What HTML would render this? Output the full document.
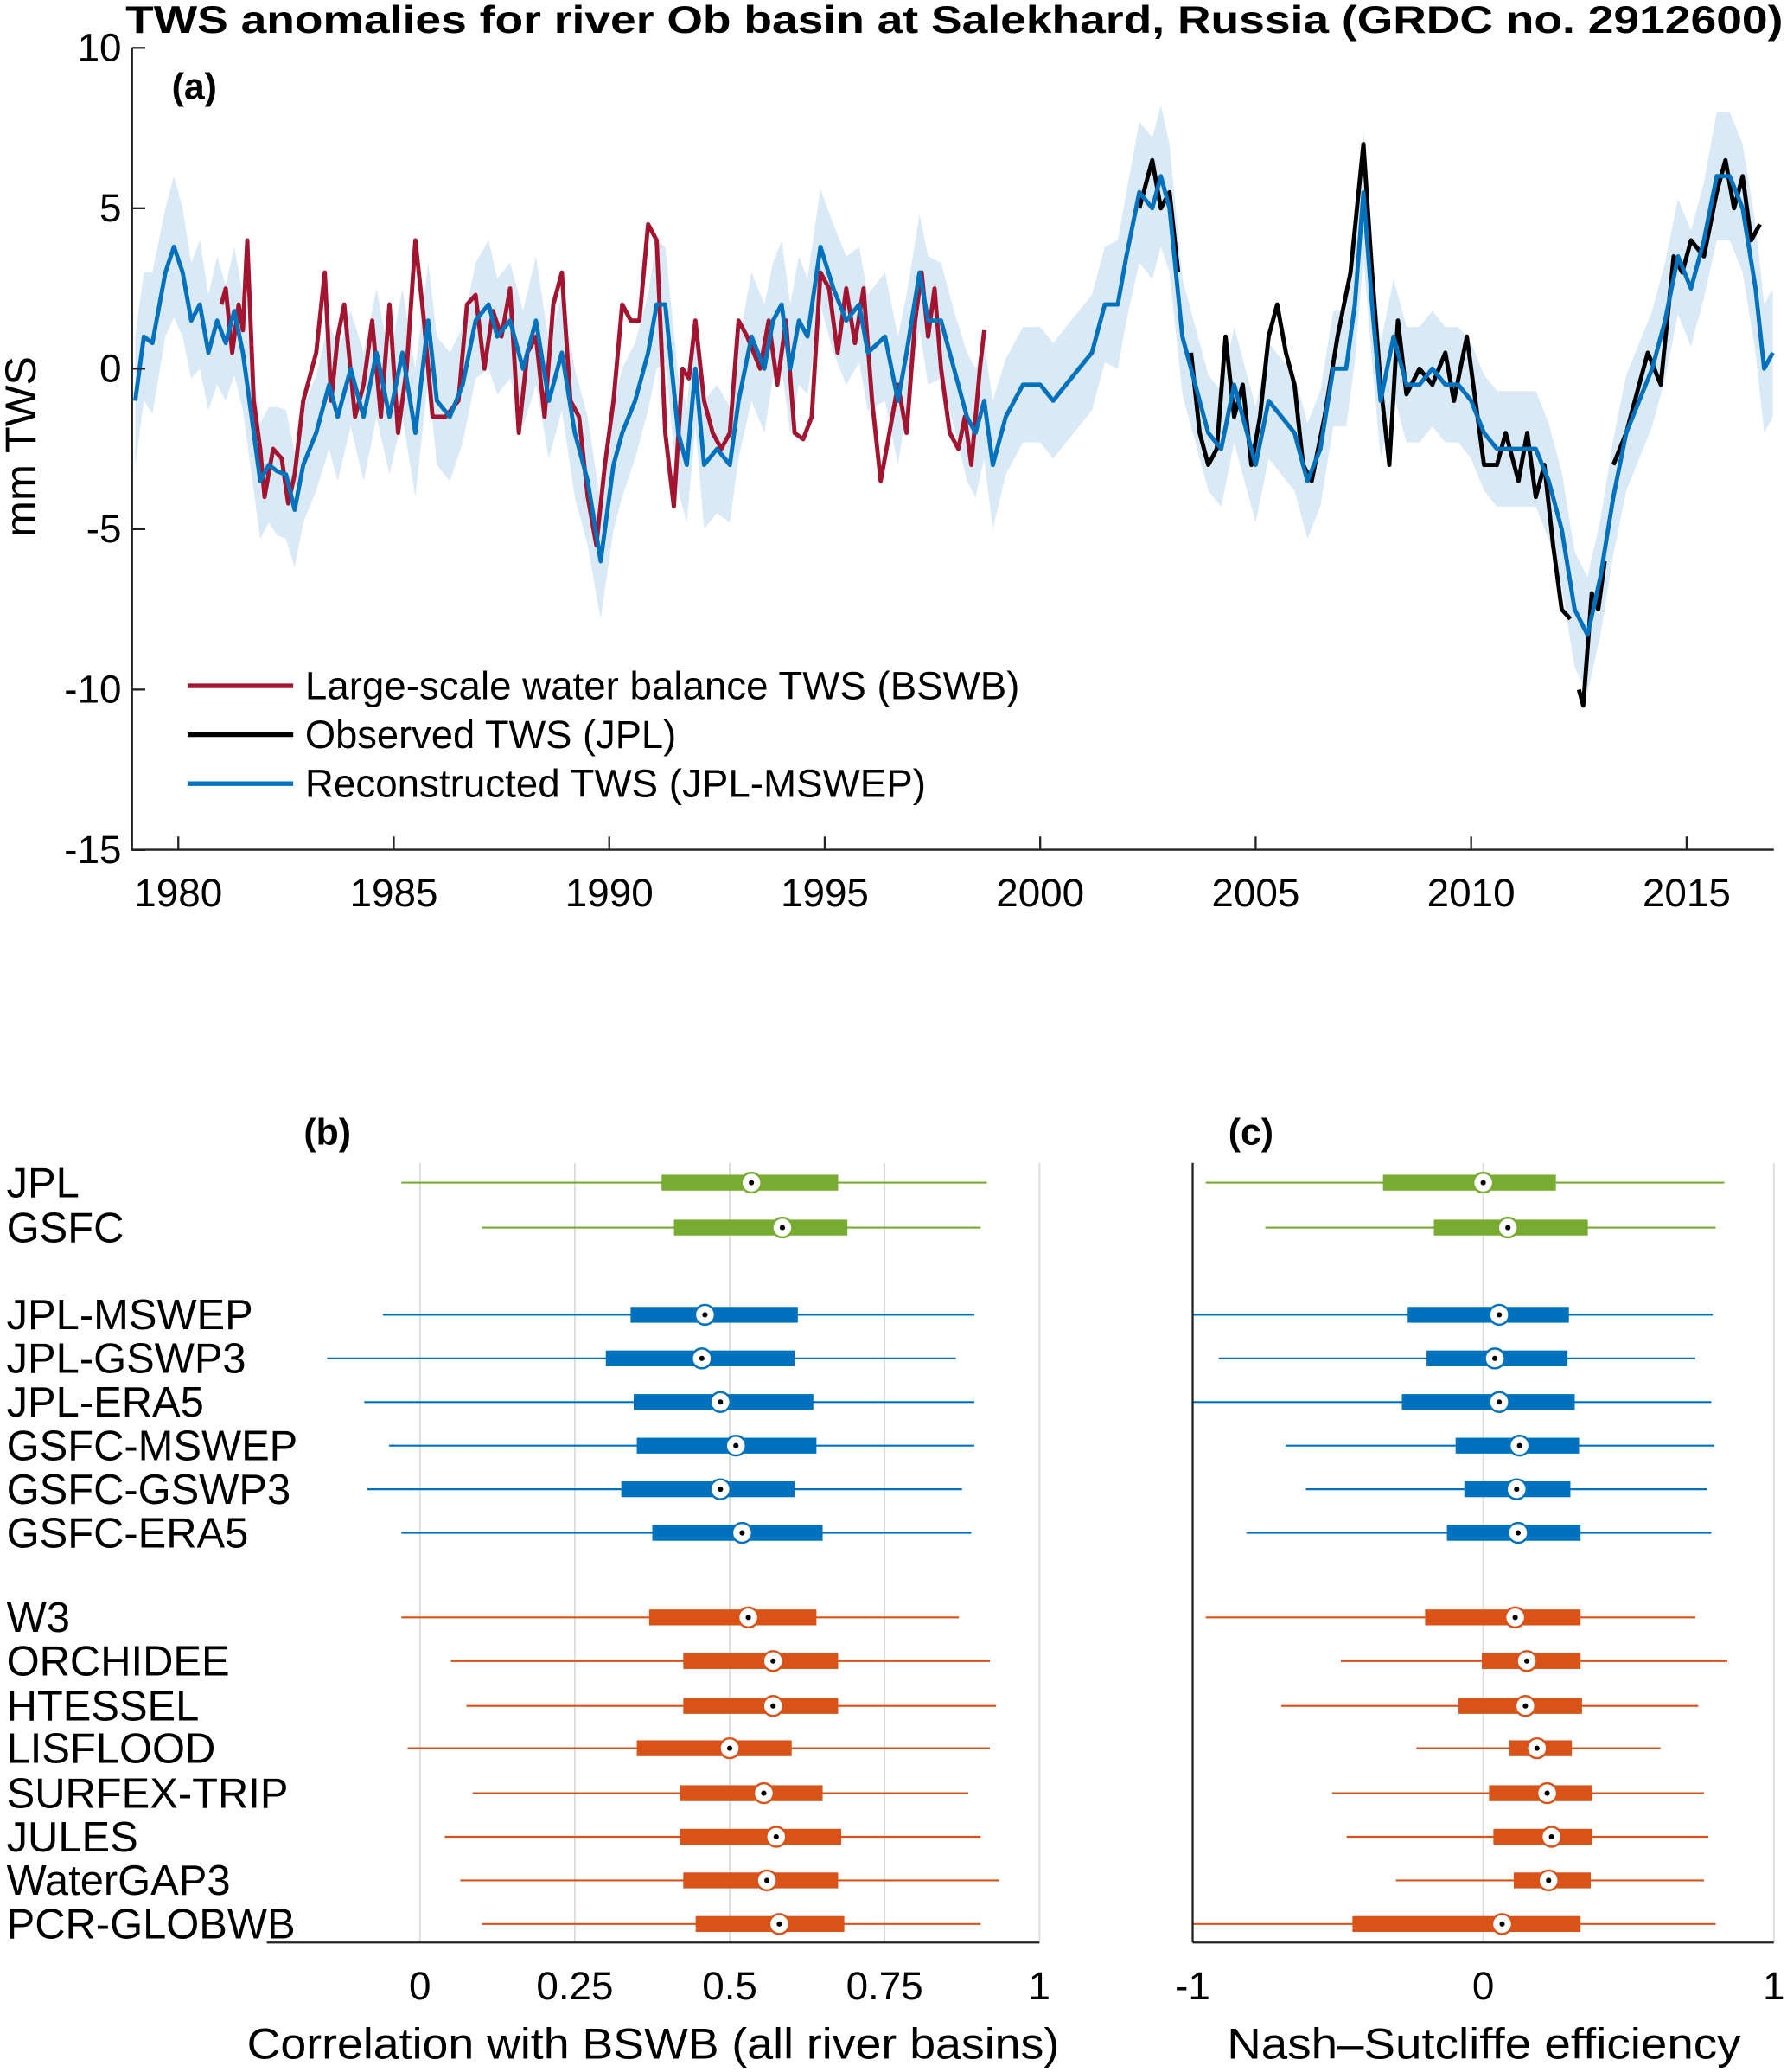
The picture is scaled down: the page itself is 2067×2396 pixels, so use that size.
<!DOCTYPE html>
<html><head><meta charset="utf-8"><style>
html,body{margin:0;padding:0;background:#fff;}
svg{display:block;font-family:"Liberation Sans",Arial,sans-serif;}
</style></head><body>
<svg id="chart" width="2067" height="2396" viewBox="0 0 1353 1568" preserveAspectRatio="none" xmlns="http://www.w3.org/2000/svg">
<g id="pa"></g>
<g id="pb"></g>
<g id="pc"></g>
</svg>
<script>
const blueT=[1979.0,1979.2,1979.4,1979.7,1979.9,1980.1,1980.3,1980.5,1980.7,1980.9,1981.1,1981.3,1981.5,1981.7,1981.9,1982.1,1982.3,1982.5,1982.7,1982.9,1983.2,1983.5,1983.7,1984.0,1984.3,1984.6,1984.9,1985.2,1985.5,1985.8,1986.0,1986.3,1986.6,1986.9,1987.2,1987.4,1987.7,1988.0,1988.3,1988.6,1988.9,1989.2,1989.5,1989.8,1990.1,1990.3,1990.6,1990.9,1991.1,1991.3,1991.6,1991.8,1992.0,1992.2,1992.5,1992.8,1993.0,1993.3,1993.6,1993.8,1994.0,1994.2,1994.4,1994.6,1994.9,1995.2,1995.5,1995.8,1996.0,1996.4,1996.7,1996.9,1997.2,1997.4,1997.7,1998.0,1998.3,1998.5,1998.7,1998.9,1999.2,1999.6,2000.0,2000.3,2000.6,2000.9,2001.2,2001.5,2001.8,2002.0,2002.3,2002.6,2002.8,2003.0,2003.3,2003.6,2003.9,2004.2,2004.5,2004.8,2005.0,2005.3,2005.6,2005.9,2006.2,2006.5,2006.8,2007.1,2007.3,2007.5,2007.7,2007.9,2008.2,2008.5,2008.8,2009.1,2009.4,2009.7,2010.0,2010.3,2010.6,2010.9,2011.2,2011.5,2011.8,2012.1,2012.4,2012.7,2013.0,2013.3,2013.6,2013.9,2014.2,2014.5,2014.8,2015.1,2015.4,2015.7,2016.0,2016.3,2016.6,2016.8,2017.0];
const blueV=[-1,1,0.8,3,3.8,3,1.5,2,0.5,1.5,0.8,1.8,0.5,-1.5,-3.5,-3,-3.2,-3.3,-4.4,-3,-2,-0.5,-1.5,0,-1.5,0.5,-1.5,0.5,-2,1.5,-1,-1.5,-0.5,1.5,2,1,1.5,0,1.5,-1,0.5,-2,-3.5,-6,-3,-2,-1,0.5,2,2,-2,-3,0,-3,-2.5,-3,-1,1,0,1.5,2,0,1.5,1,3.8,2.5,1.5,2,0.5,1,-1,0.5,3,1.5,1.5,0,-1.5,-2,-1,-3,-1.5,-0.5,-0.5,-1,-0.5,0,0.5,2,2,3.5,5.5,5,6,5,1,-0.5,-2,-2.5,-0.5,-2,-3,-1,-1.5,-2,-3.5,-2.5,0,0,2,5.5,2,-1,1,-0.5,-0.5,0,-0.5,-0.5,-1,-2,-2.5,-2.5,-2.5,-2.5,-3.5,-5,-7.5,-8.3,-6.5,-4,-2,-1,0,1.5,3.5,2.5,4,6,6,5,2.5,0,0.5];
const bandHalfWidth=[2,2,2.2,2,2.2,2,1.8,2,1.8,2,1.8,2,1.8,1.8,1.8,1.8,2,2,1.8,1.8,1.8,2,2,1.8,2,2,1.8,2,2,1.8,2,2,1.8,1.8,2,1.8,1.8,1.8,2,1.8,1.8,2,2,1.8,2,2,1.8,1.8,2,1.8,1.8,1.8,1.8,2,2,1.8,1.8,2,2,1.8,2,2,2,1.8,1.8,2,2,1.8,1.8,2,2,1.8,1.8,2,1.8,1.8,2,2,1.8,2,1.8,1.8,1.8,1.8,1.8,1.8,1.8,1.8,2,2,2.2,2.2,2.2,2,1.8,1.8,1.8,1.8,1.8,1.8,1.8,1.8,1.8,1.8,1.8,1.8,1.8,1.8,1.8,2,1.8,1.8,1.8,1.8,1.8,1.8,1.8,1.8,1.8,1.8,1.8,1.8,1.8,1.8,1.8,1.8,1.8,1.8,1.8,1.8,1.8,1.8,1.8,1.8,1.8,1.8,1.8,2,2,2,2,2,2];
const redT=[1981.0,1981.1,1981.25,1981.4,1981.5,1981.6,1981.75,1981.9,1982.0,1982.2,1982.4,1982.55,1982.7,1982.9,1983.2,1983.4,1983.55,1983.7,1983.85,1984.1,1984.3,1984.5,1984.7,1984.9,1985.1,1985.3,1985.5,1985.7,1985.9,1986.2,1986.5,1986.7,1986.9,1987.1,1987.3,1987.5,1987.7,1987.9,1988.1,1988.3,1988.5,1988.7,1988.9,1989.1,1989.3,1989.5,1989.7,1989.9,1990.1,1990.3,1990.5,1990.7,1990.9,1991.1,1991.3,1991.5,1991.7,1991.85,1992.0,1992.2,1992.4,1992.6,1992.8,1993.0,1993.2,1993.5,1993.7,1993.9,1994.1,1994.3,1994.5,1994.7,1994.9,1995.1,1995.3,1995.5,1995.7,1995.9,1996.1,1996.3,1996.5,1996.7,1996.9,1997.1,1997.25,1997.4,1997.55,1997.7,1997.9,1998.1,1998.25,1998.4,1998.6,1998.7];
const redV=[2,2.5,0.5,2,1.2,4,-1,-2.5,-4,-2.5,-2.8,-4.2,-3.3,-1,0.5,3,-1,1,2,-1.5,-0.5,1.5,-1.5,2,-2,0,4,1.5,-1.5,-1.5,-1,2,2.3,0,1.8,1,2.5,-2,0.5,1,-1.5,2,3,-1,-1.5,-4,-5.5,-3,-1,2,1.5,1.5,4.5,4,-2,-4.3,0,-0.3,1.5,-1,-2,-2.5,-2,1.5,1,0,1.5,-0.5,1.5,-2,-2.2,-1.5,3,2.5,0.5,2.5,0.8,2.5,-1,-3.5,-2,-0.5,-2,1.5,3,1,2.5,0,-2,-2.5,-1.5,-3,0,1.2];
const blackT=[2002.3,2002.6,2002.8,2003.0,2003.2,null,2003.5,2003.7,2003.9,2004.1,2004.3,2004.5,2004.7,2004.9,2005.1,2005.3,2005.5,2005.7,2005.9,2006.1,2006.3,2006.6,2006.9,2007.2,2007.5,2007.7,2007.9,2008.1,2008.3,2008.5,2008.8,2009.1,2009.4,2009.6,2009.9,2010.1,2010.3,2010.6,2010.8,2011.1,2011.3,2011.5,2011.7,2011.9,2012.1,2012.3,null,2012.5,2012.6,2012.8,2012.95,2013.1,null,2013.3,2013.6,2013.8,2014.1,2014.4,2014.7,2014.9,2015.1,2015.4,2015.7,2015.9,2016.1,2016.3,2016.5,2016.7];
const blackV=[5,6.5,5,5.5,3,null,0.5,-2,-3,-2.5,1,-1.5,-0.5,-3,-1.5,1,2,0.5,-0.5,-3,-3.5,-1.5,1,3,7,3,-0.5,-3,1.5,-0.8,0,-0.5,0.5,-1,1,-1,-3,-3,-2,-3.5,-2,-4,-3,-5.5,-7.5,-7.8,null,-10,-10.5,-7,-7.5,-6,null,-3,-2,-1,0.5,-0.5,3.5,3,4,3.5,5.5,6.5,5,6,4,4.5];
const yTicksA=[10,5,0,-5,-10,-15];
const xTicksA=[1980,1985,1990,1995,2000,2005,2010,2015];
const models=["JPL","GSFC","JPL-MSWEP","JPL-GSWP3","JPL-ERA5","GSFC-MSWEP","GSFC-GSWP3","GSFC-ERA5","W3","ORCHIDEE","HTESSEL","LISFLOOD","SURFEX-TRIP","JULES","WaterGAP3","PCR-GLOBWB"];
const groups=[0,0,1,1,1,1,1,1,2,2,2,2,2,2,2,2];
const corrStats=[[-0.03,0.39,0.535,0.675,0.915],[0.1,0.41,0.585,0.69,0.905],[-0.06,0.34,0.46,0.61,0.895],[-0.15,0.30,0.455,0.605,0.865],[-0.09,0.345,0.485,0.635,0.895],[-0.05,0.35,0.51,0.64,0.895],[-0.085,0.325,0.485,0.605,0.875],[-0.03,0.375,0.52,0.65,0.89],[-0.03,0.37,0.53,0.64,0.87],[0.05,0.425,0.57,0.675,0.92],[0.075,0.425,0.57,0.675,0.93],[-0.02,0.35,0.5,0.6,0.92],[0.085,0.42,0.555,0.65,0.885],[0.04,0.42,0.575,0.68,0.905],[0.065,0.425,0.56,0.675,0.935],[0.1,0.445,0.58,0.685,0.905]];
const nseStats=[[-0.955,-0.345,0,0.25,0.83],[-0.75,-0.17,0.085,0.36,0.8],[-1,-0.26,0.055,0.295,0.79],[-0.91,-0.195,0.04,0.29,0.73],[-1,-0.28,0.055,0.315,0.785],[-0.68,-0.095,0.125,0.33,0.795],[-0.61,-0.065,0.115,0.3,0.77],[-0.815,-0.125,0.12,0.335,0.785],[-0.955,-0.2,0.11,0.335,0.73],[-0.49,-0.005,0.15,0.335,0.84],[-0.695,-0.085,0.145,0.34,0.74],[-0.23,0.09,0.185,0.305,0.61],[-0.52,0.02,0.22,0.375,0.76],[-0.47,0.035,0.235,0.375,0.775],[-0.3,0.105,0.225,0.37,0.76],[-1,-0.45,0.065,0.335,0.8]];
const corrTicks=[0,0.25,0.5,0.75,1];
const corrTickLabels=["0","0.25","0.5","0.75","1"];
const nseTicks=[-1,0,1];
const nseTickLabels=["-1","0","1"];

const NS="http://www.w3.org/2000/svg";
function mk(parent,tag,attrs,text){const e=document.createElementNS(NS,tag);for(const k in attrs)e.setAttribute(k,attrs[k]);if(text!==undefined)e.textContent=text;parent.appendChild(e);return e;}
const groupColors=["#77ac30","#0072bd","#d95319"];

// ---- Panel A ----
const pa=document.getElementById('pa');
const ax0=100,ax1=1343,ay0=36,ay1=643;
const xA=t=>135+(t-1980)*(1277-135)/35;
const yA=v=>279-v*(643-36)/25;
let t=mk(pa,'text',{x:95,y:25,'font-size':29,'font-weight':'bold',textLength:1255,lengthAdjust:'spacingAndGlyphs'},"TWS anomalies for river Ob basin at Salekhard, Russia (GRDC no. 2912600)");

let up=[],lo=[];
for(let i=0;i<blueT.length;i++){up.push(xA(blueT[i])+','+yA(blueV[i]+bandHalfWidth[i]));lo.unshift(xA(blueT[i])+','+yA(blueV[i]-bandHalfWidth[i]));}
let band=mk(pa,'polygon',{points:up.concat(lo).join(' '),fill:'#d9e9f5'});

function line(T,V,color,name){let d='',pen=false;for(let i=0;i<T.length;i++){if(T[i]===null){pen=false;continue;}d+=(pen?'L':'M')+xA(T[i]).toFixed(1)+','+yA(V[i]).toFixed(1);pen=true;}
 const p=mk(pa,'path',{d:d,fill:'none',stroke:color,'stroke-width':3.2,'stroke-linejoin':'round'});
 }
line(redT,redV,'#a2142f','bswb-line');
line(blackT,blackV,'#000','jpl-line');
line(blueT,blueV,'#0072bd','jpl-mswep-line');
let axl=mk(pa,'path',{d:`M${ax0},${ay0}V${ay1}H${ax1}`,fill:'none',stroke:'#222','stroke-width':1.5});

yTicksA.forEach(v=>{mk(pa,'line',{x1:ax0,x2:ax0+10,y1:yA(v),y2:yA(v),stroke:'#222','stroke-width':1.5});
 const l=mk(pa,'text',{x:ax0-8,y:yA(v)+10,'text-anchor':'end','font-size':30},String(v));
 });
xTicksA.forEach(v=>{mk(pa,'line',{x1:xA(v),x2:xA(v),y1:ay1,y2:ay1-10,stroke:'#222','stroke-width':1.5});
 const l=mk(pa,'text',{x:xA(v),y:686,'text-anchor':'middle','font-size':30},String(v));
 });
t=mk(pa,'text',{x:0,y:0,transform:'translate(27,338) rotate(-90)','text-anchor':'middle','font-size':33},"mm TWS");

t=mk(pa,'text',{x:130,y:75,'font-size':28,'font-weight':'bold'},"(a)");

[["#a2142f","Large-scale water balance TWS (BSWB)",541],["#000","Observed TWS (JPL)",281],["#0072bd","Reconstructed TWS (JPL-MSWEP)",470]].forEach((e,i)=>{
 const y=519+i*37;
 const g=mk(pa,'g',{});
 mk(g,'line',{x1:142,x2:222,y1:y,y2:y,stroke:e[0],'stroke-width':3.5});
 mk(g,'text',{x:231,y:y+10,'font-size':30,textLength:e[2],lengthAdjust:'spacingAndGlyphs'},e[1]);});

// ---- Panels B & C ----
const rowY=[895,929,995,1028,1061,1094,1127,1160,1224,1257,1291,1323,1357,1390,1423,1456];
const by0=880,by1=1470;
function boxPanel(gid,stats,xf,ticks,tickLabels,left,right,title,titleX,titleW,label,labelX,name){
 const g=document.getElementById(gid);
 ticks.forEach((v,i)=>{ if(v!==ticks[0]||gid==='pb') mk(g,'line',{x1:xf(v),x2:xf(v),y1:by0,y2:by1,stroke:'#dcdcdc','stroke-width':1.2});
  const l=mk(g,'text',{x:xf(v),y:1513,'text-anchor':'middle','font-size':30},tickLabels[i]);
  });
 stats.forEach((s,i)=>{const y=rowY[i],c=groupColors[groups[i]];
  const b=mk(g,'g',{});
  mk(b,'line',{x1:xf(s[0]),x2:xf(s[4]),y1:y,y2:y,stroke:c,'stroke-width':1.4});
  mk(b,'rect',{x:xf(s[1]),y:y-6,width:xf(s[3])-xf(s[1]),height:12,fill:c});
  mk(b,'circle',{cx:xf(s[2]),cy:y,r:7.5,fill:'#fff',stroke:c,'stroke-width':1.6});
  mk(b,'circle',{cx:xf(s[2]),cy:y,r:2,fill:'#000'});});
 const a=mk(g,'path',{d:`M${left},${by1}H${right}`+(gid==='pc'?`M${left},${by0}V${by1}`:''),fill:'none',stroke:'#222','stroke-width':1.5});
 
 let t=mk(g,'text',{x:titleX,y:1558,'font-size':33,textLength:titleW,lengthAdjust:'spacingAndGlyphs'},title);
 
 t=mk(g,'text',{x:labelX,y:866,'font-size':28,'font-weight':'bold'},label);
 
}
const xB=v=>318+v*(787-318);
const xC=v=>1123+v*220;
boxPanel('pb',corrStats,xB,corrTicks,corrTickLabels,202,787,"Correlation with BSWB (all river basins)",187,615,"(b)",230,'panel-b-label');
boxPanel('pc',nseStats,xC,nseTicks,nseTickLabels,903,1343,"Nash–Sutcliffe efficiency",929,389,"(c)",930,'panel-c-label');
const pb=document.getElementById('pb');
models.forEach((m,i)=>{const l=mk(pb,'text',{x:5,y:rowY[i]+11,'font-size':32},m);
 });
</script>
</body></html>
